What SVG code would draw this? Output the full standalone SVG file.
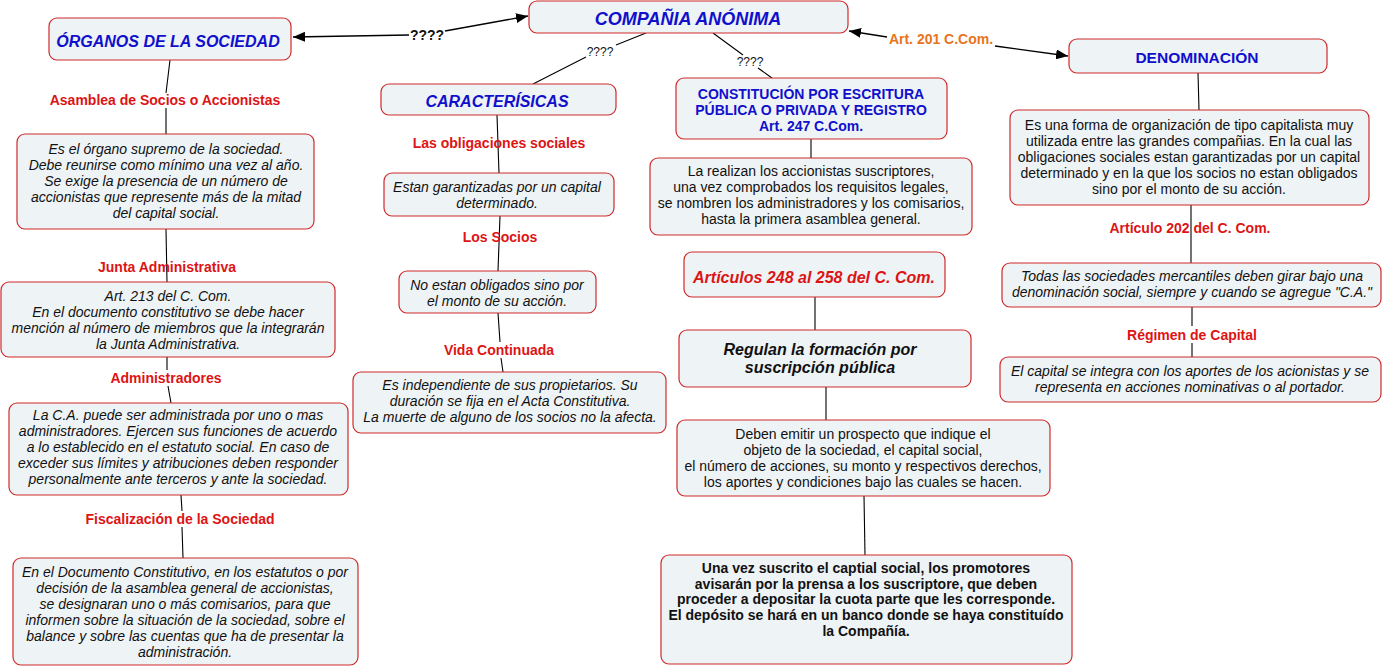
<svg xmlns="http://www.w3.org/2000/svg" width="1385" height="668" viewBox="0 0 1385 668">
<style>
.box{fill:#eef3f6;stroke:#d02a2a;stroke-width:1.2}
.ln{fill:none;stroke:#000;stroke-width:1.1}
.ar{fill:none;stroke:#000;stroke-width:1.3}
text{font-family:"Liberation Sans",Arial,sans-serif;text-anchor:middle}
.t{font-size:14px;fill:#111}
.i{font-style:italic}
.b{font-weight:bold}
.blue{fill:#1010cc;font-weight:bold}
.red{fill:#dd1414;font-weight:bold;font-size:14px}
.or{fill:#e8741c;font-weight:bold;font-size:14px}
</style>
<defs>
<marker id="ah" viewBox="0 0 12 10" refX="12" refY="5" markerWidth="12" markerHeight="10" markerUnits="userSpaceOnUse" orient="auto">
<path d="M0,0 L12,5 L0,10 z" fill="#000"/>
</marker>
</defs>
<rect width="1385" height="668" fill="#fff"/>
<g id="connectors">
<path class="ar" d="M409,35 L293,37" marker-end="url(#ah)"/>
<path class="ar" d="M445,31 L528,16" marker-end="url(#ah)"/>
<path class="ar" d="M887,37 L849,31" marker-end="url(#ah)"/>
<path class="ar" d="M995,46 L1068,56" marker-end="url(#ah)"/>
<path class="ln" d="M646,33 L616,45 M586,57 L533,84"/>
<path class="ln" d="M713,33 L743,55 M758,68 L772,78"/>
<path class="ln" d="M170,60 L166,93 M166,108 L166,134"/>
<path class="ln" d="M166,229 L167,282"/>
<path class="ln" d="M167,357 L167,370 M168,386 L171,403"/>
<path class="ln" d="M181,495 L182,511 M182,527 L183,558"/>
<path class="ln" d="M497,115 L499,173"/>
<path class="ln" d="M500,216 L498,271"/>
<path class="ln" d="M498,313 L500,342 M501,358 L503,372"/>
<path class="ln" d="M811,139 L811,158"/>
<path class="ln" d="M815,297 L815,330"/>
<path class="ln" d="M826,387 L826,420"/>
<path class="ln" d="M864,496 L865,555"/>
<path class="ln" d="M1198,73 L1199,110"/>
<path class="ln" d="M1191,205 L1191,263"/>
<path class="ln" d="M1192,307 L1192,326 M1192,343 L1192,357"/>
</g>
<g id="lbl-q1"><text class="t b" x="427" y="40">????</text></g>
<g id="lbl-q2"><text x="600" y="56" style="font-size:12px" fill="#111">????</text></g>
<g id="lbl-q3"><text x="750" y="66" style="font-size:12px" fill="#111">????</text></g>
<g id="lbl-art201"><text class="or" x="941" y="44">Art. 201 C.Com.</text></g>

<g id="n-compania"><rect class="box" x="529" y="1" width="319" height="32" rx="8"/><text class="blue i" x="688" y="25" style="font-size:18px">COMPAÑIA ANÓNIMA</text></g>
<g id="n-organos"><rect class="box" x="49" y="18" width="242" height="42" rx="8"/><text class="blue i" x="168" y="47" style="font-size:16px">ÓRGANOS DE LA SOCIEDAD</text></g>
<g id="n-carac"><rect class="box" x="381" y="84" width="235" height="31" rx="8"/><text class="blue i" x="497" y="107" style="font-size:16px">CARACTERÍSICAS</text></g>
<g id="n-constitucion"><rect class="box" x="676" y="78" width="271" height="61" rx="8"/><text class="blue" x="811" y="99" style="font-size:14px">CONSTITUCIÓN POR ESCRITURA</text><text class="blue" x="811" y="115" style="font-size:14px">PÚBLICA O PRIVADA Y REGISTRO</text><text class="blue" x="811" y="131" style="font-size:14px">Art. 247 C.Com.</text></g>
<g id="n-denominacion"><rect class="box" x="1069" y="39" width="258" height="34" rx="8"/><text class="blue" x="1197" y="63" style="font-size:15.5px">DENOMINACIÓN</text></g>

<g id="lbl-asamblea"><text class="red" x="165" y="105">Asamblea de Socios o Accionistas</text></g>
<g id="n-asamblea"><rect class="box" x="17" y="134" width="297" height="95" rx="8"/>
<text class="t i" x="166" y="154">Es el órgano supremo de la sociedad.</text>
<text class="t i" x="166" y="170">Debe reunirse como mínimo una vez al año.</text>
<text class="t i" x="166" y="186">Se exige la presencia de un número de</text>
<text class="t i" x="166" y="202">accionistas que represente más de la mitad</text>
<text class="t i" x="166" y="218">del capital social.</text></g>
<g id="lbl-junta"><text class="red" x="167" y="272">Junta Administrativa</text></g>
<g id="n-junta"><rect class="box" x="1" y="282" width="334" height="75" rx="8"/>
<text class="t i" x="168" y="301">Art. 213 del C. Com.</text>
<text class="t i" x="168" y="317">En el documento constitutivo se debe hacer</text>
<text class="t i" x="168" y="333">mención al número de miembros que la integrarán</text>
<text class="t i" x="168" y="349">la Junta Administrativa.</text></g>
<g id="lbl-admin"><text class="red" x="166" y="383">Administradores</text></g>
<g id="n-admin"><rect class="box" x="9" y="403" width="339" height="92" rx="8"/>
<text class="t i" x="178" y="420">La C.A. puede ser administrada por uno o mas</text>
<text class="t i" x="178" y="436">administradores. Ejercen sus funciones de acuerdo</text>
<text class="t i" x="178" y="452">a lo establecido en el estatuto social. En caso de</text>
<text class="t i" x="178" y="468">exceder sus límites y atribuciones deben responder</text>
<text class="t i" x="178" y="484">personalmente ante terceros y ante la sociedad.</text></g>
<g id="lbl-fisc"><text class="red" x="180" y="524">Fiscalización de la Sociedad</text></g>
<g id="n-fisc"><rect class="box" x="13" y="558" width="345" height="107" rx="8"/>
<text class="t i" x="185" y="577">En el Documento Constitutivo, en los estatutos o por</text>
<text class="t i" x="185" y="593">decisión de la asamblea general de accionistas,</text>
<text class="t i" x="185" y="609">se designaran uno o más comisarios, para que</text>
<text class="t i" x="185" y="625">informen sobre la situación de la sociedad, sobre el</text>
<text class="t i" x="185" y="641">balance y sobre las cuentas que ha de presentar la</text>
<text class="t i" x="185" y="657">administración.</text></g>

<g id="lbl-oblig"><text class="red" x="499" y="148">Las obligaciones sociales</text></g>
<g id="n-oblig"><rect class="box" x="384" y="173" width="230" height="43" rx="8"/>
<text class="t i" x="497" y="192">Estan garantizadas por un capital</text>
<text class="t i" x="497" y="208">determinado.</text></g>
<g id="lbl-socios"><text class="red" x="500" y="242">Los Socios</text></g>
<g id="n-socios"><rect class="box" x="399" y="271" width="197" height="42" rx="8"/>
<text class="t i" x="497" y="290">No estan obligados sino por</text>
<text class="t i" x="497" y="306">el monto de su acción.</text></g>
<g id="lbl-vida"><text class="red" x="499" y="355">Vida Continuada</text></g>
<g id="n-vida"><rect class="box" x="353" y="372" width="313" height="61" rx="8"/>
<text class="t i" x="510" y="390">Es independiente de sus propietarios. Su</text>
<text class="t i" x="510" y="406">duración se fija en el Acta Constitutiva.</text>
<text class="t i" x="510" y="422">La muerte de alguno de los socios no la afecta.</text></g>

<g id="n-realizan"><rect class="box" x="650" y="158" width="322" height="77" rx="8"/>
<text class="t" x="811" y="176">La realizan los accionistas suscriptores,</text>
<text class="t" x="811" y="192">una vez comprobados los requisitos legales,</text>
<text class="t" x="811" y="208">se nombren los administradores y los comisarios,</text>
<text class="t" x="811" y="224">hasta la primera asamblea general.</text></g>
<g id="n-articulos"><rect class="box" x="684" y="252" width="261" height="45" rx="8"/>
<text class="b i" x="814" y="283" style="font-size:16px" fill="#dd1414">Artículos 248 al 258 del C. Com.</text></g>
<g id="n-regulan"><rect class="box" x="679" y="330" width="292" height="57" rx="8"/>
<text class="b i" x="820" y="355" style="font-size:16px" fill="#111">Regulan la formación por</text>
<text class="b i" x="820" y="373" style="font-size:16px" fill="#111">suscripción pública</text></g>
<g id="n-deben"><rect class="box" x="677" y="420" width="373" height="76" rx="8"/>
<text class="t" x="863" y="439">Deben emitir un prospecto que indique el</text>
<text class="t" x="863" y="455">objeto de la sociedad, el capital social,</text>
<text class="t" x="863" y="471">el número de acciones, su monto y respectivos derechos,</text>
<text class="t" x="863" y="487">los aportes y condiciones bajo las cuales se hacen.</text></g>
<g id="n-suscrito"><rect class="box" x="661" y="555" width="411" height="109" rx="8"/>
<text class="t b" x="866" y="573">Una vez suscrito el captial social, los promotores</text>
<text class="t b" x="866" y="589">avisarán por la prensa a los suscriptore, que deben</text>
<text class="t b" x="866" y="604">proceder a depositar la cuota parte que les corresponde.</text>
<text class="t b" x="866" y="620">El depósito se hará en un banco donde se haya constituído</text>
<text class="t b" x="866" y="636">la Compañía.</text></g>

<g id="n-forma"><rect class="box" x="1010" y="110" width="359" height="95" rx="8"/>
<text class="t" x="1189" y="130">Es una forma de organización de tipo capitalista muy</text>
<text class="t" x="1189" y="146">utilizada entre las grandes compañias. En la cual las</text>
<text class="t" x="1189" y="162">obligaciones sociales estan garantizadas por un capital</text>
<text class="t" x="1189" y="178">determinado y en la que los socios no estan obligados</text>
<text class="t" x="1189" y="194">sino por el monto de su acción.</text></g>
<g id="lbl-art202"><text class="red" x="1190" y="233">Artículo 202 del C. Com.</text></g>
<g id="n-todas"><rect class="box" x="1002" y="263" width="379" height="44" rx="8"/>
<text class="t i" x="1192" y="281">Todas las sociedades mercantiles deben girar bajo una</text>
<text class="t i" x="1192" y="297">denominación social, siempre y cuando se agregue "C.A."</text></g>
<g id="lbl-regimen"><text class="red" x="1192" y="340">Régimen de Capital</text></g>
<g id="n-capital"><rect class="box" x="1000" y="357" width="381" height="45" rx="8"/>
<text class="t i" x="1190" y="376">El capital se integra con los aportes de los acionistas y se</text>
<text class="t i" x="1190" y="392">representa en acciones nominativas o al portador.</text></g>
</svg>
